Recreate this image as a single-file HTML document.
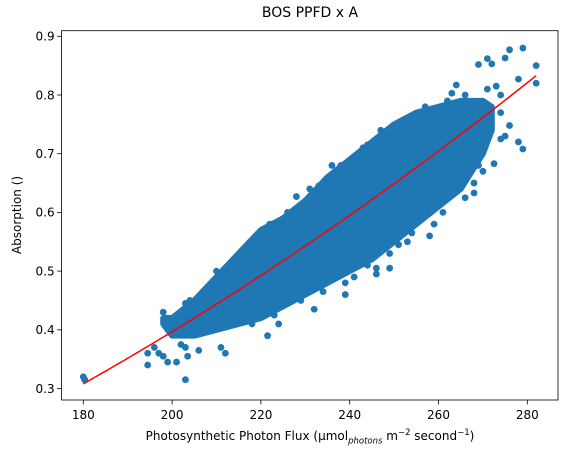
<!DOCTYPE html>
<html><head><meta charset="utf-8"><style>
body{margin:0;background:#fff}
svg{display:block;font-family:"DejaVu Sans","Liberation Sans",sans-serif}
</style></head><body>
<svg id="chart" width="567" height="462"></svg>
<script>
const xTicks=[180,200,220,240,260,280];
const yTicks=[0.3,0.4,0.5,0.6,0.7,0.8,0.9];
const bandX=[198,200,205,210,215,220,225,230,235,240,245,250,255,260,265,270,272];
const bandLow=[0.41,0.39,0.39,0.40,0.41,0.42,0.44,0.46,0.48,0.50,0.52,0.55,0.58,0.61,0.64,0.70,0.74];
const bandHigh=[0.42,0.42,0.45,0.49,0.53,0.57,0.59,0.62,0.66,0.69,0.72,0.75,0.77,0.78,0.79,0.79,0.78];
const ptX=[180,180.3,194.5,194.5,196,197,198,198,199,200,201,202,203,203,203.5,204,203,206,211,212,221.5,224,232,239,239,246,246,249,251,253,258,259,264,268,268,269,272.5,269,274,275,276,278,279,278,282,282,269,271,272,275,276,279,271,273,274,274,264,263,255,257,236,228,221,210,215,207,262,266,
 208,212,217,222,226,231,233,238,243,247,252,258,218,223,229,234,241,244,249,254,261,266,270,226,231,237,244];
const ptY=[0.32,0.315,0.34,0.36,0.37,0.36,0.355,0.43,0.345,0.41,0.345,0.375,0.37,0.315,0.355,0.45,0.445,0.365,0.37,0.36,0.39,0.41,0.435,0.46,0.48,0.495,0.505,0.505,0.545,0.55,0.56,0.58,0.64,0.65,0.633,0.68,0.683,0.72,0.725,0.73,0.748,0.72,0.708,0.827,0.82,0.85,0.852,0.862,0.853,0.863,0.877,0.88,0.81,0.815,0.8,0.77,0.817,0.803,0.764,0.78,0.68,0.627,0.572,0.50,0.525,0.46,0.79,0.80,
 0.46,0.505,0.545,0.58,0.60,0.64,0.645,0.68,0.71,0.74,0.755,0.775,0.41,0.425,0.45,0.465,0.49,0.51,0.53,0.565,0.60,0.625,0.67,0.585,0.61,0.655,0.715];
const fitCoef=[0.308,0.004263,0.00000866];
const fitRange=[180,282];

const L=61.6,R=558,T=30.7,B=400;
const xs=v=>83.3+(v-180)*4.44;
const ys=v=>36.3+(0.9-v)*587;
const svg=document.getElementById('chart');
const NS='http://www.w3.org/2000/svg';
function el(t,a,txt){const e=document.createElementNS(NS,t);for(const k in a)e.setAttribute(k,a[k]);if(txt!=null)e.textContent=txt;svg.appendChild(e);return e;}
let pts=[];
bandX.forEach((x,i)=>pts.push(xs(x)+','+ys(bandHigh[i])));
for(let i=bandX.length-1;i>=0;i--)pts.push(xs(bandX[i])+','+ys(bandLow[i]));
let band=el('polygon',{points:pts.join(' '),fill:'#1f77b4',stroke:'#1f77b4','stroke-width':6,'stroke-linejoin':'round'});


ptX.forEach((x,i)=>{
 const c=el('circle',{cx:xs(x),cy:ys(ptY[i]),r:3.4,fill:'#1f77b4'});
 
 
});
let d='';
for(let x=fitRange[0];x<=fitRange[1];x+=1){const t=x-180;const y=fitCoef[0]+fitCoef[1]*t+fitCoef[2]*t*t;d+=(d?'L':'M')+xs(x)+' '+ys(y);}
const fl=el('path',{d:d,fill:'none',stroke:'red','stroke-width':1.5});


const fr=el('rect',{x:L,y:T,width:R-L,height:B-T,fill:'none',stroke:'#000','stroke-width':0.8});


xTicks.forEach(v=>{
 el('line',{x1:xs(v),x2:xs(v),y1:B,y2:B+4.5,stroke:'#000','stroke-width':0.8});
 const t=el('text',{x:xs(v),y:B+19,'font-size':12,'text-anchor':'middle',fill:'#000'},String(v));
 
 
});
yTicks.forEach(v=>{
 el('line',{x1:L-4.5,x2:L,y1:ys(v),y2:ys(v),stroke:'#000','stroke-width':0.8});
 const t=el('text',{x:L-7,y:ys(v)+4.3,'font-size':12,'text-anchor':'end',fill:'#000'},v.toFixed(1));
 
 
});
</script>
<div style="position:absolute;left:0;top:0;width:567px;height:462px;pointer-events:none">
<div style="position:absolute;top:5px;left:62px;width:496px;text-align:center;font:14px 'DejaVu Sans','Liberation Sans',sans-serif">BOS PPFD x A</div>
<div style="position:absolute;top:428px;left:62px;width:496px;text-align:center;font:12px 'DejaVu Sans','Liberation Sans',sans-serif;white-space:nowrap">Photosynthetic Photon Flux (μmol<sub style="font-size:8.5px;font-style:italic">photons</sub> m<sup style="font-size:8.5px">−2</sup> second<sup style="font-size:8.5px">−1</sup>)</div>
<div style="position:absolute;left:17px;top:215px;transform:translate(-50%,-50%) rotate(-90deg);font:12px 'DejaVu Sans','Liberation Sans',sans-serif;white-space:nowrap">Absorption ()</div>
</div>
</body></html>
